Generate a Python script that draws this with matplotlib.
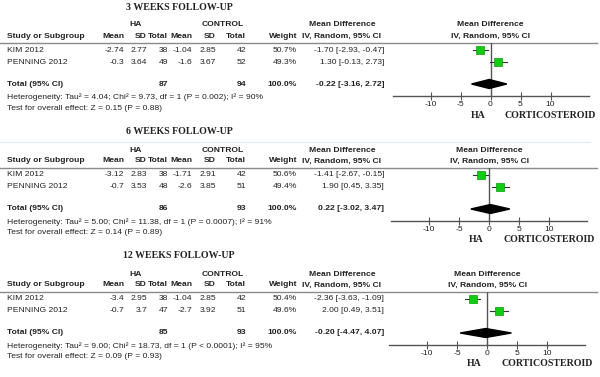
import matplotlib
matplotlib.use("Agg")
import matplotlib.pyplot as plt

# ==========================
# Data
# ==========================
followups = ["3 WEEKS FOLLOW-UP", "6 WEEKS FOLLOW-UP", "12 WEEKS FOLLOW-UP"]
studies = ["KIM 2012", "PENNING 2012"]

ha_mean = [[-2.74, -0.3], [-3.12, -0.7], [-3.4, -0.7]]
ha_sd = [[2.77, 3.64], [2.83, 3.53], [2.95, 3.7]]
ha_n = [[38, 49], [38, 48], [38, 47]]
ctl_mean = [[-1.04, -1.6], [-1.71, -2.6], [-1.04, -2.7]]
ctl_sd = [[2.85, 3.67], [2.91, 3.85], [2.85, 3.92]]
ctl_n = [[42, 52], [42, 51], [42, 51]]
weights = [[50.7, 49.3], [50.6, 49.4], [50.4, 49.6]]

md = [[-1.70, 1.30], [-1.41, 1.90], [-2.36, 2.00]]
md_lo = [[-2.93, -0.13], [-2.67, 0.45], [-3.63, 0.49]]
md_hi = [[-0.47, 2.73], [-0.15, 3.35], [-1.09, 3.51]]

tot_md = [-0.22, 0.22, -0.20]
tot_lo = [-3.16, -3.02, -4.47]
tot_hi = [2.72, 3.47, 4.07]
ha_total = [87, 86, 85]
ctl_total = [94, 93, 93]

heterogeneity = [
    "Heterogeneity: Tau² = 4.04; Chi² = 9.73, df = 1 (P = 0.002); I² = 90%",
    "Heterogeneity: Tau² = 5.00; Chi² = 11.38, df = 1 (P = 0.0007); I² = 91%",
    "Heterogeneity: Tau² = 9.00; Chi² = 18.73, df = 1 (P < 0.0001); I² = 95%",
]
overall = [
    "Test for overall effect: Z = 0.15 (P = 0.88)",
    "Test for overall effect: Z = 0.14 (P = 0.89)",
    "Test for overall effect: Z = 0.09 (P = 0.93)",
]
ticks = [-10, -5, 0, 5, 10]

# ==========================
# Layout (pixels)
# ==========================
W, H = 600, 377
SANS = "Liberation Sans"
SERIF = "Liberation Serif"
FS = 6.1
FS_SERIF = 7.1

fig = plt.figure(figsize=(W / 100, H / 100), dpi=100)
canvas = fig.add_axes([0, 0, 1, 1])
canvas.set_xlim(0, W)
canvas.set_ylim(H, 0)
canvas.axis("off")


def txt(x, y, s, ha="left", bold=False, serif=False, size=FS):
    canvas.text(x, y, s, ha=ha, va="center", fontsize=size,
                fontweight="bold" if bold else "normal",
                family=SERIF if serif else SANS, color="#222222")


bases = [0, 125, 249]
zero_x = [490.5, 489, 487]
px_per_unit = 6.0
xmin, xmax = -16.3, 16.4
col_x = [124, 147, 168, 192, 216, 246, 297]
ci_x = 384

for p in range(3):
    b = bases[p]
    # title
    txt(179, b + 7, followups[p], ha="center", bold=True, serif=True, size=FS_SERIF)
    if p == 1:
        canvas.plot([0, 590], [b + 17, b + 17], color="#e8eef6", lw=1)

    # group headers
    txt(136, b + 25, "HA", ha="center", bold=True)
    txt(223, b + 25, "CONTROL", ha="center", bold=True)
    txt(342, b + 25, "Mean Difference", ha="center", bold=True)
    txt(zero_x[p], b + 25, "Mean Difference", ha="center", bold=True)

    # column headers
    txt(7, b + 36, "Study or Subgroup", bold=True)
    for x, h in zip(col_x, ["Mean", "SD", "Total", "Mean", "SD", "Total", "Weight"]):
        txt(x, b + 36, h, ha="right", bold=True)
    txt(342, b + 36, "IV, Random, 95% CI", ha="center", bold=True)
    txt(zero_x[p], b + 36, "IV, Random, 95% CI", ha="center", bold=True)
    canvas.plot([0, 597], [b + 43, b + 43], color="#8a8a8a", lw=1)

    # study rows
    row_y = [b + 50, b + 62]
    for i, s in enumerate(studies):
        y = row_y[i]
        txt(7, y, s)
        vals = [f"{ha_mean[p][i]:g}", f"{ha_sd[p][i]:g}", f"{ha_n[p][i]}",
                f"{ctl_mean[p][i]:g}", f"{ctl_sd[p][i]:g}", f"{ctl_n[p][i]}",
                f"{weights[p][i]:.1f}%"]
        for x, v in zip(col_x, vals):
            txt(x, y, v, ha="right")
        txt(ci_x, y, f"{md[p][i]:.2f} [{md_lo[p][i]:.2f}, {md_hi[p][i]:.2f}]", ha="right")

    # total row
    ty = b + 84
    txt(7, ty, "Total (95% CI)", bold=True)
    txt(col_x[2], ty, f"{ha_total[p]}", ha="right", bold=True)
    txt(col_x[5], ty, f"{ctl_total[p]}", ha="right", bold=True)
    txt(col_x[6], ty, "100.0%", ha="right", bold=True)
    txt(ci_x, ty, f"{tot_md[p]:.2f} [{tot_lo[p]:.2f}, {tot_hi[p]:.2f}]", ha="right", bold=True)
    txt(7, b + 97, heterogeneity[p])
    txt(7, b + 108, overall[p])

    # forest plot axes: from header line (b+43) down to axis line (b+96)
    left = zero_x[p] + xmin * px_per_unit
    width = (xmax - xmin) * px_per_unit
    top, bottom = b + 43, b + 96
    ax = fig.add_axes([left / W, 1 - bottom / H, width / W, (bottom - top) / H])
    ax.set_xlim(xmin, xmax)
    ax.set_ylim(bottom - top, 0)
    ax.patch.set_alpha(0)
    for side in ["top", "right", "left"]:
        ax.spines[side].set_visible(False)
    ax.spines["bottom"].set_color("#555555")
    ax.spines["bottom"].set_linewidth(1)
    ax.set_yticks([])
    ax.set_xticks(ticks)
    ax.set_xticklabels([str(t) for t in ticks], fontsize=FS, family=SANS, color="#222222")
    ax.tick_params(axis="x", direction="inout", length=6, width=0.8, color="#555555", pad=0.5)
    ax.axvline(0, color="#555555", lw=1)

    for i in range(2):
        y = row_y[i] - top
        ax.plot([md_lo[p][i], md_hi[p][i]], [y, y], color="#333333", lw=0.8)
        ax.plot(md[p][i], y, marker="s", ms=5.6, color="#11cc11",
                mec="#0a9a0a", mew=0.5)

    yd = ty - top
    ax.fill([tot_lo[p], tot_md[p], tot_hi[p], tot_md[p]],
            [yd, yd - 4.5, yd, yd + 4.5], color="black", zorder=3)

    # favours labels
    txt(zero_x[p] - 2.1 * px_per_unit, b + 115, "HA", ha="center", bold=True, serif=True, size=FS_SERIF)
    txt(zero_x[p] + 10 * px_per_unit, b + 115, "CORTICOSTEROID", ha="center", bold=True, serif=True, size=FS_SERIF)

fig.savefig("out.png", dpi=100)
